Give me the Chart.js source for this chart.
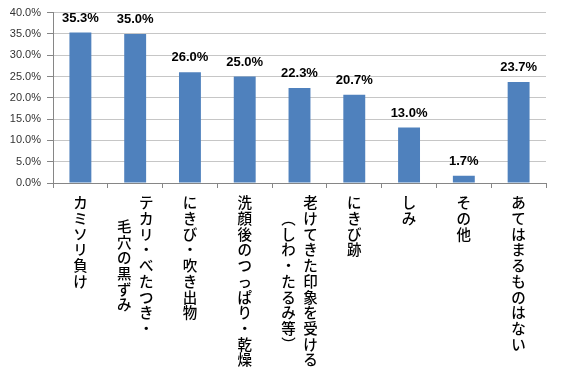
<!DOCTYPE html>
<html>
<head>
<meta charset="utf-8">
<script src="https://cdn.jsdelivr.net/npm/chart.js@4.4.1/dist/chart.umd.min.js"></script>
<style>
  html, body { margin: 0; padding: 0; background: #fff; }
  #wrap { width: 567px; height: 378px; }
</style>
</head>
<body>
<div id="wrap"><canvas id="grafico" width="567" height="378"></canvas></div>
<script>
// categorias (cada linha de texto vertical e um elemento)
var categorias = [
    ["カミソリ負け"],
    ["テカリ・べたつき・", "毛穴の黒ずみ"],
    ["にきび・吹き出物"],
    ["洗顔後のつっぱり・乾燥"],
    ["老けてきた印象を受ける", "︵しわ・たるみ等︶"],
    ["にきび跡"],
    ["しみ"],
    ["その他"],
    ["あてはまるものはない"]
];
var valores = [35.3, 35.0, 26.0, 25.0, 22.3, 20.7, 13.0, 1.7, 23.7];
var yTicks = [0, 5, 10, 15, 20, 25, 30, 35, 40];

var azul = '#4f81bd';

// texto vertical por baixo do eixo x
var textoVertical = {
    id: 'textoVertical',
    afterDraw: function (chart) {
        var ctx = chart.ctx;
        var xScale = chart.scales.x;
        var topo = xScale.bottom - xScale.height + 12;
        var passo = 15.7;
        var colunas = 22;
        ctx.save();
        ctx.fillStyle = '#000';
        ctx.font = '500 14.5px "Noto Sans CJK JP"';
        ctx.textAlign = 'center';
        ctx.textBaseline = 'middle';
        for (var i = 0; i < categorias.length; i++) {
            var linhas = categorias[i];
            var cx = xScale.getPixelForValue(i);
            var maxLen = 0;
            for (var k = 0; k < linhas.length; k++) {
                maxLen = Math.max(maxLen, Array.from(linhas[k]).length);
            }
            for (var k = 0; k < linhas.length; k++) {
                var chars = Array.from(linhas[k]);
                var x = cx + (linhas.length - 1) / 2 * colunas - k * colunas;
                var y0 = topo + (maxLen - chars.length) * passo / 2;
                for (var c = 0; c < chars.length; c++) {
                    ctx.fillText(chars[c], x, y0 + c * passo + passo / 2);
                }
            }
        }
        ctx.restore();
    }
};

// rotulos de valor por cima das barras
var rotulos = {
    id: 'rotulos',
    afterDatasetsDraw: function (chart) {
        var ctx = chart.ctx;
        var meta = chart.getDatasetMeta(0);
        ctx.save();
        ctx.fillStyle = '#000';
        ctx.font = 'bold 13px "Liberation Sans"';
        ctx.textAlign = 'center';
        ctx.textBaseline = 'alphabetic';
        meta.data.forEach(function (bar, i) {
            ctx.fillText(valores[i].toFixed(1) + '%', bar.x, bar.y - 11);
        });
        ctx.restore();
    }
};

function initEvents() {
    var el = document.getElementById('grafico');
    new Chart(el, {
        type: 'bar',
        data: {
            labels: categorias.map(function (l) { return l.join(''); }),
            datasets: [{
                data: valores,
                backgroundColor: azul,
                borderWidth: 0,
                categoryPercentage: 1,
                barPercentage: 0.4
            }]
        },
        options: {
            responsive: false,
            animation: false,
            layout: { padding: { top: 9, right: 21, left: 0, bottom: 0 } },
            plugins: {
                legend: { display: false },
                tooltip: { enabled: false }
            },
            scales: {
                x: {
                    grid: {
                        offset: true,
                        drawOnChartArea: false,
                        drawTicks: true,
                        tickLength: 5,
                        tickColor: '#868686'
                    },
                    border: { color: '#868686' },
                    ticks: { display: false },
                    afterFit: function (scale) { scale.height = 195; }
                },
                y: {
                    min: 0,
                    max: 40,
                    afterBuildTicks: function (scale) {
                        scale.ticks = yTicks.map(function (v) { return { value: v }; });
                    },
                    grid: {
                        color: '#c6c6c6',
                        tickLength: 6,
                        tickColor: '#868686'
                    },
                    border: { color: '#868686' },
                    ticks: {
                        padding: 6,
                        color: '#333333',
                        font: { family: 'Liberation Sans', size: 11 },
                        callback: function (v) { return v.toFixed(1) + '%'; }
                    },
                    afterFit: function (scale) { scale.width = 53; }
                }
            }
        },
        plugins: [rotulos, textoVertical]
    });
}

document.addEventListener('DOMContentLoaded', initEvents);
</script>
</body>
</html>
